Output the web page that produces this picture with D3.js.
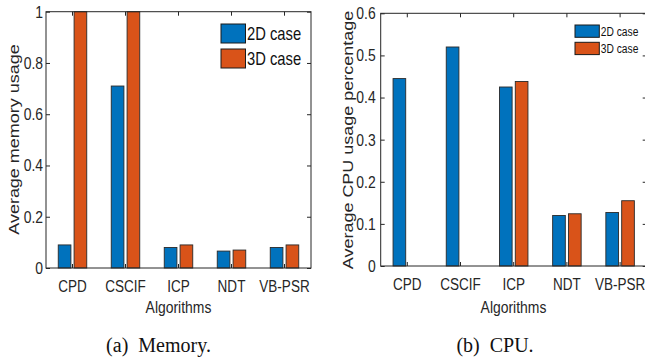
<!DOCTYPE html>
<html>
<head>
<meta charset="utf-8">
<script src="https://cdn.jsdelivr.net/npm/d3@7"></script>
<style>
  html, body { margin: 0; padding: 0; background: #fff; }
  svg { display: block; font-family: 'Liberation Sans', Arial, sans-serif; }
</style>
</head>
<body>
<div id="chart"></div>
<script>
const algorithms = ['CPD', 'CSCIF', 'ICP', 'NDT', 'VB-PSR'];
const cases = ['2D case', '3D case'];

const memory2D = [0.09, 0.71, 0.08, 0.066, 0.08];
const memory3D = [1.0, 1.0, 0.09, 0.07, 0.09];
const memoryTicks = [0, 0.2, 0.4, 0.6, 0.8, 1];

const cpu2D = [0.445, 0.52, 0.425, 0.12, 0.127];
const cpu3D = [0, 0, 0.438, 0.124, 0.155];
const cpuTicks = [0, 0.1, 0.2, 0.3, 0.4, 0.5, 0.6];

const W = 645, H = 358;
const colors = d3.scaleOrdinal().domain(cases).range(['#0072BD', '#D95319']);
const axisColor = '#262626';
const squeeze = 0.82; // the figure's text is horizontally compressed

const svg = d3.select('#chart').append('svg')
  .attr('width', W).attr('height', H);

// compress text horizontally around its anchor x
function narrow(sel) {
  sel.each(function () {
    const t = d3.select(this);
    const x = +t.attr('x') || 0;
    t.attr('x', 0).attr('transform', `translate(${x},0) scale(${squeeze},1)`);
  });
}

function drawPanel(opt) {
  const g = svg.append('g');

  const x = d3.scaleBand().domain(algorithms).range([opt.left, opt.right]);
  const x1 = d3.scaleBand().domain(cases).range([0, 28.5]).paddingInner(0.2);
  const y = d3.scaleLinear().domain([0, opt.max]).range([opt.bottom, opt.top]);

  const rows = algorithms.map((a, i) => ({ name: a, values: [opt.s2[i], opt.s3[i]] }));

  // bars
  g.selectAll('.grp')
    .data(rows)
    .enter().append('g')
    .attr('transform', d => `translate(${x(d.name) + x.bandwidth() / 2 - 14.25},0)`)
    .selectAll('rect')
    .data(d => cases.map((c, j) => ({ key: c, value: d.values[j] })))
    .enter().append('rect')
    .attr('x', d => x1(d.key))
    .attr('y', d => y(d.value))
    .attr('width', x1.bandwidth())
    .attr('height', d => y(0) - y(d.value))
    .attr('fill', d => colors(d.key))
    .attr('stroke', '#2a2a2a')
    .attr('stroke-width', 0.9);

  // frame
  g.append('rect')
    .attr('x', opt.left).attr('y', opt.top)
    .attr('width', opt.right - opt.left).attr('height', opt.bottom - opt.top)
    .attr('fill', 'none').attr('stroke', axisColor).attr('stroke-width', 1);

  // left axis
  const yAxis = g.append('g')
    .attr('transform', `translate(${opt.left},0)`)
    .call(d3.axisLeft(y).tickValues(opt.ticks).tickFormat(d3.format('~g'))
      .tickSizeInner(-4).tickSizeOuter(0).tickPadding(opt.pad));
  yAxis.select('.domain').remove();
  yAxis.selectAll('line').attr('stroke', axisColor);
  yAxis.selectAll('text').attr('font-size', 17).attr('fill', axisColor).call(narrow);

  // right ticks
  const yAxisR = g.append('g')
    .attr('transform', `translate(${opt.right},0)`)
    .call(d3.axisRight(y).tickValues(opt.ticks).tickFormat('').tickSizeInner(-4).tickSizeOuter(0));
  yAxisR.select('.domain').remove();
  yAxisR.selectAll('line').attr('stroke', axisColor);

  // bottom axis
  const xAxis = g.append('g')
    .attr('transform', `translate(0,${opt.bottom})`)
    .call(d3.axisBottom(x).tickSizeInner(-4).tickSizeOuter(0).tickPadding(12));
  xAxis.select('.domain').remove();
  xAxis.selectAll('line').attr('stroke', axisColor);
  xAxis.selectAll('text').attr('font-size', 16.5).attr('fill', axisColor).call(narrow);

  // top ticks
  const xAxisT = g.append('g')
    .attr('transform', `translate(0,${opt.top})`)
    .call(d3.axisTop(x).tickFormat('').tickSizeInner(-4).tickSizeOuter(0));
  xAxisT.select('.domain').remove();
  xAxisT.selectAll('line').attr('stroke', axisColor);

  // axis titles
  g.append('text')
    .attr('x', opt.xlabX)
    .attr('y', 313.5)
    .attr('text-anchor', 'middle')
    .attr('font-size', 17)
    .attr('fill', axisColor)
    .text('Algorithms')
    .call(narrow);

  g.append('text')
    .attr('transform', `translate(${opt.ylabX},${opt.ylabY}) rotate(-90) scale(1,${squeeze})`)
    .attr('text-anchor', 'middle')
    .attr('dominant-baseline', 'central')
    .attr('font-size', 18)
    .attr('fill', axisColor)
    .text(opt.ylabel);

  // legend
  const lg = g.append('g').attr('transform', `translate(${opt.legX},${opt.legY})`);
  cases.forEach((c, i) => {
    lg.append('rect')
      .attr('x', 0).attr('y', i * opt.legStep)
      .attr('width', opt.legW).attr('height', opt.legH)
      .attr('fill', colors(c)).attr('stroke', '#1a1a1a').attr('stroke-width', 1);
    lg.append('text')
      .attr('x', opt.legW + 1.5)
      .attr('y', i * opt.legStep + opt.legH / 2)
      .attr('dominant-baseline', 'central')
      .attr('font-size', opt.legFont)
      .attr('fill', '#111')
      .text(c)
      .call(narrow);
  });

  // caption
  g.append('text')
    .attr('x', opt.capX).attr('y', 352)
    .attr('text-anchor', 'middle')
    .attr('font-family', "'Liberation Serif', 'Times New Roman', serif")
    .attr('font-size', 20)
    .attr('fill', '#111')
    .style('white-space', 'pre')
    .text(opt.caption);
}

drawPanel({
  left: 46, right: 311, top: 11.7, bottom: 268,
  max: 1, ticks: memoryTicks, s2: memory2D, s3: memory3D, pad: 3,
  ylabel: 'Average memory usage', ylabX: 13.5, ylabY: 139.5, xlabX: 178.5,
  legX: 221, legY: 24, legW: 24.5, legH: 19, legStep: 25, legFont: 18,
  caption: '(a)  Memory.', capX: 158.5
});

drawPanel({
  left: 380.7, right: 646.7, top: 13.3, bottom: 266,
  max: 0.6, ticks: cpuTicks, s2: cpu2D, s3: cpu3D, pad: 5,
  ylabel: 'Average CPU usage percentage', ylabX: 348, ylabY: 140, xlabX: 513.5,
  legX: 575, legY: 25, legW: 24.3, legH: 12.3, legStep: 17.3, legFont: 12.5,
  caption: '(b)  CPU.', capX: 495
});
</script>
</body>
</html>
